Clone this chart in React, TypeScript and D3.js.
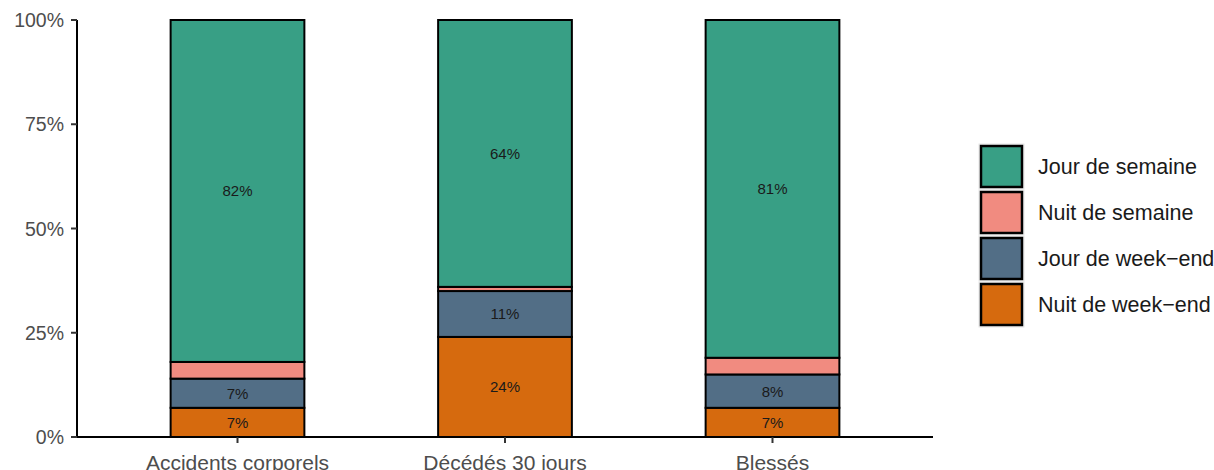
import React from "react";
import * as d3 from "d3";

const categories = ["Accidents corporels", "Décédés 30 jours", "Blessés"];
const seriesNames = ["Nuit de week\u2212end", "Jour de week\u2212end", "Nuit de semaine", "Jour de semaine"];
const nuitWeekEnd = [7, 24, 7];
const jourWeekEnd = [7, 11, 8];
const nuitSemaine = [4, 1, 4];
const jourSemaine = [82, 64, 81];
const seriesColors = ["#D66A0E", "#526E86", "#F18B80", "#389F85"];
const yTicks = [0, 25, 50, 75, 100];
const legendOrder = ["Jour de semaine", "Nuit de semaine", "Jour de week\u2212end", "Nuit de week\u2212end"];

const W = 1214;
const H = 470;
const FONT = "'Liberation Sans', Arial, Helvetica, sans-serif";

export default function App() {
  const left = 77;
  const right = 933;
  const top = 20;
  const bottom = 437;

  const seriesValues = [nuitWeekEnd, jourWeekEnd, nuitSemaine, jourSemaine];

  // ggplot-like discrete scale: units 0.4..3.6
  const xUnit = d3.scaleLinear().domain([0.4, categories.length + 0.6]).range([left, right]);
  const barWidth = 0.5;
  const y = d3.scaleLinear().domain([0, 100]).range([bottom, top]);

  const rects: any[] = [];
  const labels: any[] = [];
  categories.forEach((cat, i) => {
    let cum = 0;
    const cx = xUnit(i + 1);
    const x0 = xUnit(i + 1 - barWidth / 2);
    const x1 = xUnit(i + 1 + barWidth / 2);
    seriesValues.forEach((vals, s) => {
      const v = vals[i];
      const y0 = y(cum);
      const y1 = y(cum + v);
      rects.push(
        <rect
          key={`r-${i}-${s}`}
          x={x0}
          y={y1}
          width={x1 - x0}
          height={y0 - y1}
          fill={seriesColors[s]}
          stroke="#000"
          strokeWidth={2}
        />
      );
      if (v >= 5) {
        labels.push(
          <text
            key={`t-${i}-${s}`}
            x={cx}
            y={y(cum + v / 2)}
            textAnchor="middle"
            dominantBaseline="central"
            fontSize={15}
            fill="#1a1a1a"
            fontFamily={FONT}
          >
            {`${v}%`}
          </text>
        );
      }
      cum += v;
    });
  });

  const legendX = 980;
  const legendY0 = 145;
  const keySize = 43;
  const keyStep = 46;

  return (
    <svg width={W} height={H} style={{ position: "absolute", left: 0, top: 0 }}>
      <rect x={0} y={0} width={W} height={H} fill="#fff" />
      {rects}
      {labels}
      {/* y axis */}
      <line x1={left} x2={left} y1={top} y2={bottom} stroke="#000" strokeWidth={2} />
      {yTicks.map((t) => (
        <g key={`yt-${t}`}>
          <line x1={left - 6} x2={left} y1={y(t)} y2={y(t)} stroke="#333" strokeWidth={2} />
          <text
            x={left - 13}
            y={y(t)}
            textAnchor="end"
            dominantBaseline="central"
            fontSize={19.5}
            fill="#4d4d4d"
            fontFamily={FONT}
          >
            {`${t}%`}
          </text>
        </g>
      ))}
      {/* x axis */}
      <line x1={left} x2={right} y1={bottom} y2={bottom} stroke="#000" strokeWidth={2} />
      {categories.map((c, i) => (
        <g key={`xt-${i}`}>
          <line x1={xUnit(i + 1)} x2={xUnit(i + 1)} y1={bottom} y2={bottom + 6} stroke="#333" strokeWidth={2} />
          <text
            x={xUnit(i + 1)}
            y={bottom + 25.5}
            textAnchor="middle"
            dominantBaseline="central"
            fontSize={21}
            fill="#4d4d4d"
            fontFamily={FONT}
          >
            {c}
          </text>
        </g>
      ))}
      {/* legend */}
      {legendOrder.map((name, k) => {
        const s = seriesNames.indexOf(name);
        const ky = legendY0 + k * keyStep;
        return (
          <g key={`lg-${k}`}>
            <rect x={legendX - 1} y={ky - 1} width={keySize + 2} height={keySize + 2} fill="none" stroke="#e5e5e5" strokeWidth={1} />
            <rect
              x={legendX + 1}
              y={ky + 1}
              width={keySize - 2}
              height={keySize - 2}
              fill={seriesColors[s]}
              stroke="#000"
              strokeWidth={2.5}
            />
            <text
              x={1038}
              y={ky + keySize / 2}
              dominantBaseline="central"
              fontSize={21.5}
              fill="#1a1a1a"
              fontFamily={FONT}
            >
              {name}
            </text>
          </g>
        );
      })}
    </svg>
  );
}
